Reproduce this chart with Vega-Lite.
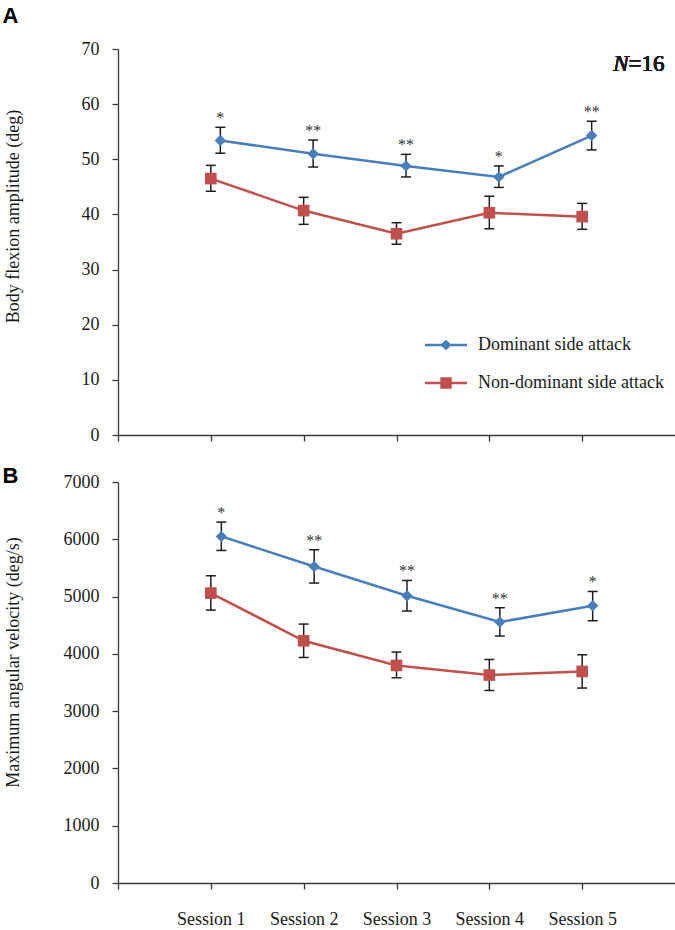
{
  "$schema": "https://vega.github.io/schema/vega-lite/v6.json",
  "background": "white",
  "padding": {"left": 2, "top": 5, "right": 0, "bottom": 0},
  "config": {
    "font": "Liberation Serif",
    "view": {"stroke": null},
    "axis": {
      "grid": false,
      "domainColor": "#3a3a3a",
      "tickColor": "#3a3a3a",
      "domainWidth": 1.3,
      "tickWidth": 1.3,
      "tickSize": 6,
      "labelColor": "#1a1a1a",
      "titleColor": "#1a1a1a",
      "labelFont": "Liberation Serif",
      "titleFont": "Liberation Serif",
      "labelFontSize": 18,
      "titleFontSize": 18,
      "titleFontWeight": "normal"
    }
  },
  "datasets": {
    "amp": [
      {"session": 1, "group": "Dominant side attack", "mean": 53.4, "lower": 51.1, "upper": 55.8, "sig": "*"},
      {"session": 2, "group": "Dominant side attack", "mean": 51.0, "lower": 48.6, "upper": 53.5, "sig": "**"},
      {"session": 3, "group": "Dominant side attack", "mean": 48.8, "lower": 46.8, "upper": 50.9, "sig": "**"},
      {"session": 4, "group": "Dominant side attack", "mean": 46.8, "lower": 44.9, "upper": 48.8, "sig": "*"},
      {"session": 5, "group": "Dominant side attack", "mean": 54.3, "lower": 51.7, "upper": 56.9, "sig": "**"},
      {"session": 1, "group": "Non-dominant side attack", "mean": 46.5, "lower": 44.2, "upper": 48.9, "sig": ""},
      {"session": 2, "group": "Non-dominant side attack", "mean": 40.7, "lower": 38.2, "upper": 43.1, "sig": ""},
      {"session": 3, "group": "Non-dominant side attack", "mean": 36.5, "lower": 34.6, "upper": 38.5, "sig": ""},
      {"session": 4, "group": "Non-dominant side attack", "mean": 40.3, "lower": 37.4, "upper": 43.3, "sig": ""},
      {"session": 5, "group": "Non-dominant side attack", "mean": 39.6, "lower": 37.3, "upper": 42.0, "sig": ""}
    ],
    "vel": [
      {"session": 1, "group": "Dominant side attack", "mean": 6050, "lower": 5805, "upper": 6300, "sig": "*"},
      {"session": 2, "group": "Dominant side attack", "mean": 5525, "lower": 5236, "upper": 5817, "sig": "**"},
      {"session": 3, "group": "Dominant side attack", "mean": 5014, "lower": 4747, "upper": 5281, "sig": "**"},
      {"session": 4, "group": "Dominant side attack", "mean": 4555, "lower": 4311, "upper": 4805, "sig": "**"},
      {"session": 5, "group": "Dominant side attack", "mean": 4839, "lower": 4578, "upper": 5089, "sig": "*"},
      {"session": 1, "group": "Non-dominant side attack", "mean": 5061, "lower": 4764, "upper": 5363, "sig": ""},
      {"session": 2, "group": "Non-dominant side attack", "mean": 4229, "lower": 3937, "upper": 4520, "sig": ""},
      {"session": 3, "group": "Non-dominant side attack", "mean": 3798, "lower": 3583, "upper": 4031, "sig": ""},
      {"session": 4, "group": "Non-dominant side attack", "mean": 3630, "lower": 3361, "upper": 3902, "sig": ""},
      {"session": 5, "group": "Non-dominant side attack", "mean": 3693, "lower": 3403, "upper": 3984, "sig": ""}
    ]
  },
  "resolve": {"scale": {"color": "independent"}, "legend": {"color": "independent"}},
  "spacing": 21,
  "vconcat": [
    {
      "width": 557,
      "height": 386,
      "title": {"text": "A", "anchor": "start", "frame": "group", "font": "Liberation Sans", "fontSize": 22, "fontWeight": "bold", "color": "#000000", "dx": -115.6, "offset": 12},
      "data": {"name": "amp"},
      "encoding": {
        "x": {"field": "session", "type": "quantitative", "scale": {"domain": [0, 6], "nice": false, "zero": false},
          "axis": {"values": [0, 1, 2, 3, 4, 5], "labels": false, "title": null}}
      },
      "layer": [
        {
          "transform": [{"filter": "datum.group === 'Non-dominant side attack'"}],
          "layer": [
            {"mark": {"type": "line", "strokeWidth": 2.5},
              "encoding": {
                "y": {"field": "mean", "type": "quantitative", "scale": {"domain": [0, 70], "nice": false},
                  "axis": {"values": [0, 10, 20, 30, 40, 50, 60, 70], "title": "Body flexion amplitude (deg)", "labelPadding": 13, "titleX": -105, "titleY": 167, "titleBaseline": "middle", "titleAlign": "center", "titleAngle": 270}},
                "color": {"field": "group", "type": "nominal",
                  "scale": {"domain": ["Dominant side attack", "Non-dominant side attack"], "range": ["#4a7ebb", "#c0504d"]},
                  "legend": {"orient": "none", "legendX": 307, "legendY": 275, "title": null, "padding": 0,
                    "labelFont": "Liberation Serif", "labelFontSize": 18, "labelColor": "#1a1a1a", "labelOffset": 11, "labelLimit": 400,
                    "symbolSize": 1764, "rowPadding": 8, "symbolStrokeWidth": 0,
                    "encode": {"symbols": {"update": {
                      "shape": {"signal": "datum.value === 'Dominant side attack' ? 'M-1,-0.06L1,-0.06L1,0.06L-1,0.06Z M0,-0.25L0.28,0L0,0.25L-0.28,0Z' : 'M-1,-0.06L1,-0.06L1,0.06L-1,0.06Z M-0.27,-0.27L0.27,-0.27L0.27,0.27L-0.27,0.27Z'"},
                      "fill": {"signal": "datum.value === 'Dominant side attack' ? '#4a7ebb' : '#c0504d'"},
                      "fillOpacity": {"value": 1},
                      "stroke": {"value": "transparent"},
                      "strokeWidth": {"value": 0},
                      "size": {"value": 1764}}}}}}
              }},
            {"mark": {"type": "rule", "color": "#1e1e1e", "strokeWidth": 1.5},
              "encoding": {"y": {"field": "lower", "type": "quantitative"}, "y2": {"field": "upper"}}},
            {"mark": {"type": "tick", "orient": "horizontal", "size": 10, "thickness": 1.5, "color": "#1e1e1e", "opacity": 1},
              "encoding": {"y": {"field": "lower", "type": "quantitative"}}},
            {"mark": {"type": "tick", "orient": "horizontal", "size": 10, "thickness": 1.5, "color": "#1e1e1e", "opacity": 1},
              "encoding": {"y": {"field": "upper", "type": "quantitative"}}},
            {"mark": {"type": "point", "shape": "square", "size": 135, "filled": true, "opacity": 1, "color": "#c0504d"},
              "encoding": {"y": {"field": "mean", "type": "quantitative"}}}
          ]
        },
        {
          "transform": [{"filter": "datum.group === 'Dominant side attack'"}],
          "layer": [
            {"mark": {"type": "line", "strokeWidth": 2.5, "xOffset": 9.5},
              "encoding": {
                "y": {"field": "mean", "type": "quantitative"},
                "color": {"field": "group", "type": "nominal",
                  "scale": {"domain": ["Dominant side attack", "Non-dominant side attack"], "range": ["#4a7ebb", "#c0504d"]}}
              }},
            {"mark": {"type": "rule", "color": "#1e1e1e", "strokeWidth": 1.5, "xOffset": 9.5},
              "encoding": {"y": {"field": "lower", "type": "quantitative"}, "y2": {"field": "upper"}}},
            {"mark": {"type": "tick", "orient": "horizontal", "size": 10, "thickness": 1.5, "color": "#1e1e1e", "opacity": 1, "xOffset": 9.5},
              "encoding": {"y": {"field": "lower", "type": "quantitative"}}},
            {"mark": {"type": "tick", "orient": "horizontal", "size": 10, "thickness": 1.5, "color": "#1e1e1e", "opacity": 1, "xOffset": 9.5},
              "encoding": {"y": {"field": "upper", "type": "quantitative"}}},
            {"mark": {"type": "point", "shape": "diamond", "size": 130, "filled": true, "opacity": 1, "color": "#4a7ebb", "xOffset": 9.5},
              "encoding": {"y": {"field": "mean", "type": "quantitative"}}},
            {"mark": {"type": "text", "font": "Liberation Serif", "fontSize": 16, "fontWeight": "normal", "color": "#333333", "baseline": "bottom", "dy": -1, "xOffset": 9.5},
              "encoding": {"y": {"field": "upper", "type": "quantitative"}, "text": {"field": "sig"}}}
          ]
        },
        {
          "mark": {"type": "text", "font": "Liberation Serif", "fontSize": 23, "fontStyle": "italic", "fontWeight": "normal", "align": "right", "baseline": "alphabetic", "color": "#1a1a1a"},
          "encoding": {"x": {"datum": 5.5}, "y": {"datum": 66}, "text": {"value": "N"}}
        },
        {
          "mark": {"type": "text", "font": "Liberation Serif", "fontSize": 23, "fontWeight": "normal", "align": "left", "baseline": "alphabetic", "color": "#1a1a1a"},
          "encoding": {"x": {"datum": 5.5}, "y": {"datum": 66}, "text": {"value": "=16"}}
        }
      ]
    },
    {
      "width": 557,
      "height": 401,
      "title": {"text": "B", "anchor": "start", "frame": "group", "font": "Liberation Sans", "fontSize": 22, "fontWeight": "bold", "color": "#000000", "dx": -115.6, "offset": -15},
      "data": {"name": "vel"},
      "encoding": {
        "x": {"field": "session", "type": "quantitative", "scale": {"domain": [0, 6], "nice": false, "zero": false},
          "axis": {"values": [0, 1, 2, 3, 4, 5], "labelExpr": "datum.value === 0 ? '' : 'Session ' + datum.value", "labelPadding": 21, "title": null}}
      },
      "layer": [
        {
          "transform": [{"filter": "datum.group === 'Non-dominant side attack'"}],
          "layer": [
            {"mark": {"type": "line", "strokeWidth": 2.5},
              "encoding": {
                "y": {"field": "mean", "type": "quantitative", "scale": {"domain": [0, 7000], "nice": false},
                  "axis": {"values": [0, 1000, 2000, 3000, 4000, 5000, 6000, 7000], "format": "d", "title": "Maximum angular velocity (deg/s)", "labelPadding": 13, "titleX": -105, "titleY": 180, "titleBaseline": "middle", "titleAlign": "center", "titleAngle": 270}},
                "color": {"field": "group", "type": "nominal",
                  "scale": {"domain": ["Dominant side attack", "Non-dominant side attack"], "range": ["#4a7ebb", "#c0504d"]}, "legend": null}
              }},
            {"mark": {"type": "rule", "color": "#1e1e1e", "strokeWidth": 1.5},
              "encoding": {"y": {"field": "lower", "type": "quantitative"}, "y2": {"field": "upper"}}},
            {"mark": {"type": "tick", "orient": "horizontal", "size": 10, "thickness": 1.5, "color": "#1e1e1e", "opacity": 1},
              "encoding": {"y": {"field": "lower", "type": "quantitative"}}},
            {"mark": {"type": "tick", "orient": "horizontal", "size": 10, "thickness": 1.5, "color": "#1e1e1e", "opacity": 1},
              "encoding": {"y": {"field": "upper", "type": "quantitative"}}},
            {"mark": {"type": "point", "shape": "square", "size": 135, "filled": true, "opacity": 1, "color": "#c0504d"},
              "encoding": {"y": {"field": "mean", "type": "quantitative"}}}
          ]
        },
        {
          "transform": [{"filter": "datum.group === 'Dominant side attack'"}],
          "layer": [
            {"mark": {"type": "line", "strokeWidth": 2.5, "xOffset": 10.5},
              "encoding": {
                "y": {"field": "mean", "type": "quantitative"},
                "color": {"field": "group", "type": "nominal",
                  "scale": {"domain": ["Dominant side attack", "Non-dominant side attack"], "range": ["#4a7ebb", "#c0504d"]}, "legend": null}
              }},
            {"mark": {"type": "rule", "color": "#1e1e1e", "strokeWidth": 1.5, "xOffset": 10.5},
              "encoding": {"y": {"field": "lower", "type": "quantitative"}, "y2": {"field": "upper"}}},
            {"mark": {"type": "tick", "orient": "horizontal", "size": 10, "thickness": 1.5, "color": "#1e1e1e", "opacity": 1, "xOffset": 10.5},
              "encoding": {"y": {"field": "lower", "type": "quantitative"}}},
            {"mark": {"type": "tick", "orient": "horizontal", "size": 10, "thickness": 1.5, "color": "#1e1e1e", "opacity": 1, "xOffset": 10.5},
              "encoding": {"y": {"field": "upper", "type": "quantitative"}}},
            {"mark": {"type": "point", "shape": "diamond", "size": 130, "filled": true, "opacity": 1, "color": "#4a7ebb", "xOffset": 10.5},
              "encoding": {"y": {"field": "mean", "type": "quantitative"}}},
            {"mark": {"type": "text", "font": "Liberation Serif", "fontSize": 16, "fontWeight": "normal", "color": "#333333", "baseline": "bottom", "dy": -1, "xOffset": 10.5},
              "encoding": {"y": {"field": "upper", "type": "quantitative"}, "text": {"field": "sig"}}}
          ]
        }
      ]
    }
  ]
}
